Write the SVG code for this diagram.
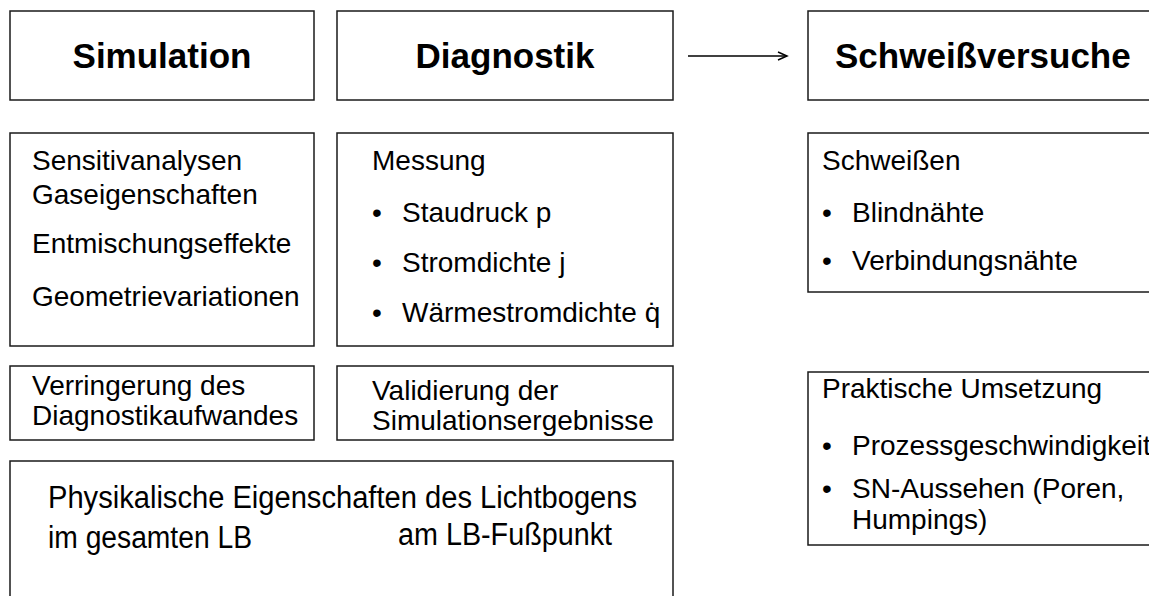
<svg xmlns="http://www.w3.org/2000/svg" width="1149" height="596" viewBox="0 0 1149 596">
<defs>
<style>
.box{fill:#fff;stroke:#1a1a1a;stroke-width:1.5}
.t{font-family:"Liberation Sans",Arial,sans-serif;font-size:28px;fill:#000}
.b{font-family:"Liberation Sans",Arial,sans-serif;font-size:31px;fill:#000}
.h{font-family:"Liberation Sans",Arial,sans-serif;font-size:35px;font-weight:bold;fill:#000}
.c{stroke:#000;stroke-width:1.5;fill:none}
</style>
<marker id="arr" markerWidth="12" markerHeight="10" refX="10" refY="5" orient="auto" markerUnits="userSpaceOnUse">
<path d="M1,1 L10,5 L1,9" fill="none" stroke="#000" stroke-width="1.5"/>
</marker>
</defs>
<rect width="1149" height="596" fill="#fff"/>
<g id="simulation">
<rect class="box" x="10" y="11" width="304" height="89"/>
<text class="h" x="162" y="68" text-anchor="middle">Simulation</text>
</g>
<g id="diagnostik">
<rect class="box" x="337" y="11" width="336" height="89"/>
<text class="h" x="505" y="68" text-anchor="middle">Diagnostik</text>
</g>
<g id="schweissversuche">
<rect class="box" x="808" y="11" width="360" height="89"/>
<text class="h" x="835" y="68">Schweißversuche</text>
</g>
<g id="connectors">
<line class="c" x1="688" y1="56" x2="787" y2="56" marker-end="url(#arr)"/>
</g>
<g id="sim-details">
<rect class="box" x="10" y="133" width="304" height="213"/>
<text class="t" x="32" y="170">Sensitivanalysen</text>
<text class="t" x="32" y="204">Gaseigenschaften</text>
<text class="t" x="32" y="253">Entmischungseffekte</text>
<text class="t" x="32" y="306">Geometrievariationen</text>
</g>
<g id="messung">
<rect class="box" x="337" y="133" width="336" height="213"/>
<text class="t" x="372" y="170">Messung</text>
<text class="t" x="372" y="222">•</text>
<text class="t" x="402" y="222">Staudruck p</text>
<text class="t" x="372" y="272">•</text>
<text class="t" x="402" y="272">Stromdichte j</text>
<text class="t" x="372" y="322">•</text>
<text class="t" x="402" y="322">Wärmestromdichte q̇</text>
</g>
<g id="schweissen">
<rect class="box" x="808" y="133" width="360" height="159"/>
<text class="t" x="822" y="170">Schweißen</text>
<text class="t" x="822" y="222">•</text>
<text class="t" x="852" y="222">Blindnähte</text>
<text class="t" x="822" y="270">•</text>
<text class="t" x="852" y="270">Verbindungsnähte</text>
</g>
<g id="verringerung">
<rect class="box" x="10" y="366" width="304" height="74"/>
<text class="t" x="32" y="395">Verringerung des</text>
<text class="t" x="32" y="425">Diagnostikaufwandes</text>
</g>
<g id="validierung">
<rect class="box" x="337" y="366" width="336" height="74"/>
<text class="t" x="372" y="400">Validierung der</text>
<text class="t" x="372" y="430">Simulationsergebnisse</text>
</g>
<g id="praktisch">
<rect class="box" x="808" y="372" width="360" height="173"/>
<text class="t" x="822" y="398">Praktische Umsetzung</text>
<text class="t" x="822" y="455">•</text>
<text class="t" x="852" y="455">Prozessgeschwindigkeit</text>
<text class="t" x="822" y="498">•</text>
<text class="t" x="852" y="498">SN-Aussehen (Poren,</text>
<text class="t" x="852" y="529">Humpings)</text>
</g>
<g id="physik">
<rect class="box" x="10" y="461" width="663" height="150"/>
<text class="b" x="48" y="508" textLength="589" lengthAdjust="spacingAndGlyphs">Physikalische Eigenschaften des Lichtbogens</text>
<text class="b" x="48" y="548" textLength="204" lengthAdjust="spacingAndGlyphs">im gesamten LB</text>
<text class="b" x="398" y="545" textLength="214" lengthAdjust="spacingAndGlyphs">am LB-Fußpunkt</text>
</g>
</svg>
